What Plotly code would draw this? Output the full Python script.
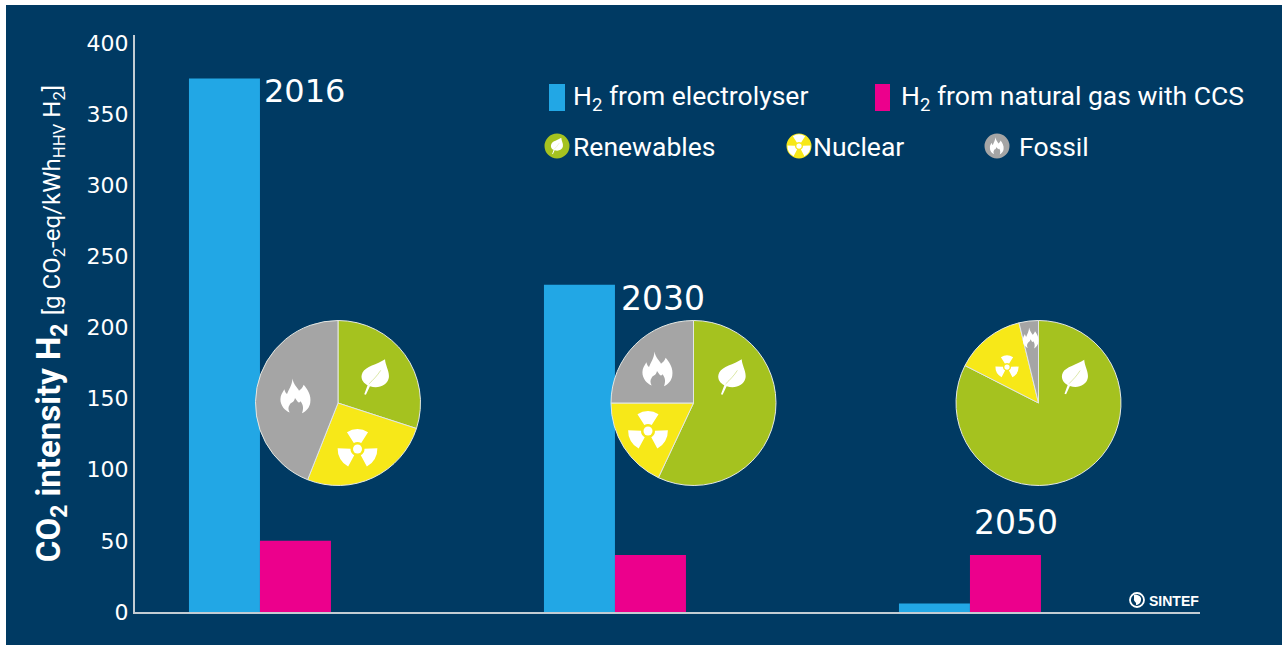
import base64, math
import plotly.graph_objects as go

# ---------- data ----------
years = ["2016", "2030", "2050"]
electrolyser = [375, 230, 6]
natural_gas_ccs = [50, 40, 40]
mix_labels = ["Renewables", "Nuclear", "Fossil"]
mix_2016 = [30, 26, 44]
mix_2030 = [57, 18, 25]
mix_2050 = [82.5, 13.7, 3.8]
y_ticks = [0, 50, 100, 150, 200, 250, 300, 350, 400]

# ---------- style ----------
NAVY = "#003A63"; BLUE = "#22A7E5"; PINK = "#EC008C"
GREEN = "#A5C21F"; YELLOW = "#F7E818"; GREY = "#A5A5A5"; LINE = "#C3CCD3"
W, H = 1282, 645
L, R, T, B = 135, 1200, 35, 612
NUM_FONT = "DejaVu Sans"
TXT_FONT = "Roboto"

def px(x): return (x - L) / (R - L)
def py(y): return (B - y) / (B - T)

def uri(svg):
    return "data:image/svg+xml;base64," + base64.b64encode(svg.encode()).decode()

LEAF = uri('<svg xmlns="http://www.w3.org/2000/svg" viewBox="62 26 88 112" width="88" height="112" preserveAspectRatio="none">'
           '<path fill="#fff" d="M135,28 C136,48 150,66 146,86 C141,108 115,118 90,110 L78,136 L73,134 L83,107 '
           'C68,100 60,84 68,68 C76,50 112,44 135,28 Z"/>'
           f'<path stroke="{GREEN}" stroke-width="1.2" fill="none" d="M87,103 C100,90 112,78 122,62"/></svg>')
FLAME = uri('<svg xmlns="http://www.w3.org/2000/svg" viewBox="28 23 98 110" width="98" height="110" preserveAspectRatio="none">'
            '<path fill="#fff" d="M66,25 C70,45 82,52 86,62 C92,58 98,52 100,44 C112,58 124,76 120,98 C118,112 108,124 95,130 '
            'C100,118 100,104 90,94 C86,102 82,96 74,84 C70,100 62,96 58,104 C52,112 54,120 58,128 C44,122 30,108 30,88 '
            'C30,76 36,68 42,58 C44,66 46,70 50,72 C54,58 66,46 66,25 Z"/></svg>')

def blade(a, ro=18.5, ri=6.5, half=32):
    p = lambda r, d: f"{r*math.cos(math.radians(d)):.2f},{r*math.sin(math.radians(d)):.2f}"
    return (f'<path fill="#fff" d="M{p(ri,a-half)} L{p(ro,a-half)} A{ro},{ro} 0 0 1 {p(ro,a+half)} '
            f'L{p(ri,a+half)} A{ri},{ri} 0 0 0 {p(ri,a-half)} Z"/>')
RAD = uri('<svg xmlns="http://www.w3.org/2000/svg" viewBox="-20 -20 40 40" width="40" height="40">'
          + blade(-90) + blade(30) + blade(150) + '<circle r="4.2" fill="#fff"/></svg>')
GLOBE = uri('<svg xmlns="http://www.w3.org/2000/svg" viewBox="-8 -8 16 16" width="16" height="16">'
            '<circle r="7" fill="none" stroke="#fff" stroke-width="1.8"/>'
            '<path fill="#fff" d="M-3,-5 C1,-6 5,-3 4,0 C4,3 1,5 -1,5 C0,2 -4,1 -3,-1 Z"/></svg>')

def img(src, cx, cy, w, h):
    return dict(source=src, xref="paper", yref="paper", x=px(cx), y=py(cy),
                sizex=w / (R - L), sizey=h / (B - T), xanchor="center", yanchor="middle",
                sizing="stretch", layer="above")

images = [
    img(LEAF, 375.3, 377, 29.5, 37), img(FLAME, 296, 396, 32.5, 36.5), img(RAD, 357.5, 449, 43, 43),
    img(LEAF, 732, 377, 29.5, 37), img(FLAME, 658, 369, 32.5, 36.5), img(RAD, 648, 431, 43, 43),
    img(LEAF, 1075, 377, 28, 36), img(FLAME, 1031, 338, 17, 22), img(RAD, 1007, 367, 25, 25),
    img(LEAF, 557, 146, 13, 17), img(RAD, 799, 146, 25, 25), img(FLAME, 997, 146, 15, 18),
    img(GLOBE, 1137, 600, 16, 16),
]

def rect(x0, y0, x1, y1, color, kind="rect", layer="below"):
    return dict(type=kind, xref="paper", yref="paper", x0=px(x0), x1=px(x1), y0=py(y0), y1=py(y1),
                fillcolor=color, line=dict(width=0), layer=layer)

shapes = [
    rect(6, 5, W, H, NAVY),
    rect(549, 84, 565, 111, BLUE), rect(875, 84, 890, 111, PINK),
    rect(544.5, 133.5, 569.5, 158.5, GREEN, "circle"),
    rect(786.5, 133.5, 811.5, 158.5, YELLOW, "circle"),
    rect(984.5, 133.5, 1009.5, 158.5, GREY, "circle"),
]

def label(text, x, y, size, font=TXT_FONT, weight=None, anchor="left"):
    return dict(text=text, xref="paper", yref="paper", x=px(x), y=py(y), xanchor=anchor, yanchor="middle",
                showarrow=False, font=dict(family=font, size=size, color="white", weight=weight))

annotations = [
    label(years[0], 262, 91, 32, NUM_FONT),
    label(years[1], 619, 298, 33, NUM_FONT),
    label(years[2], 972, 522, 33, NUM_FONT),
    label("H<sub>2</sub> from electrolyser", 571, 98, 26.5),
    label("H<sub>2</sub> from natural gas with CCS", 899, 98, 26.5),
    label(mix_labels[0], 571, 146, 26.5),
    label(mix_labels[1], 811, 146, 26.5),
    label(mix_labels[2], 1017, 146, 26.5),
    label("SINTEF", 1147, 601, 14, "Liberation Sans", 700),
]

fig = go.Figure()
fig.add_bar(x=years, y=electrolyser, name="H2 from electrolyser", marker=dict(color=BLUE, line=dict(width=0)))
fig.add_bar(x=years, y=natural_gas_ccs, name="H2 from natural gas with CCS", marker=dict(color=PINK, line=dict(width=0)))

centers = [338, 693.5, 1038.5]
for mix, cx in zip([mix_2016, mix_2030, mix_2050], centers):
    r = 82.5
    fig.add_pie(labels=mix_labels, values=mix, sort=False, direction="clockwise", rotation=0,
                textinfo="none", hoverinfo="label+percent", automargin=False,
                marker=dict(colors=[GREEN, YELLOW, GREY], line=dict(color="#E4E8E4", width=1)),
                domain=dict(x=[px(cx - r), px(cx + r)], y=[py(403 + r), py(403 - r)]))

fig.update_layout(
    width=W, height=H, autosize=False, showlegend=False,
    margin=dict(l=L, r=W - R, t=T, b=H - B, pad=0),
    paper_bgcolor="white", plot_bgcolor=NAVY,
    barmode="group", bargap=0.6, bargroupgap=0,
    shapes=shapes, images=images, annotations=annotations,
    xaxis=dict(type="category", range=[-0.352, 2.648], showticklabels=False, ticks="",
               showgrid=False, zeroline=False, showline=True, linecolor=LINE, linewidth=2),
    yaxis=dict(range=[0, 405.6], tickvals=y_ticks, ticks="", showgrid=False, zeroline=False,
               showline=True, linecolor=LINE, linewidth=2,
               tickfont=dict(family=NUM_FONT, size=22, color="white"),
               title=dict(text='<b>CO<sub>2</sub> intensity H<sub>2</sub></b> '
                               '<span style="font-size:24px">[g CO<sub>2</sub>-eq/kWh<sub>HHV</sub> H<sub>2</sub>]</span>',
                          font=dict(family=TXT_FONT, size=33, color="white"), standoff=16)),
)

fig.write_html("out.html", config=dict(displayModeBar=False),
               post_script="document.body.style.margin='0';")
